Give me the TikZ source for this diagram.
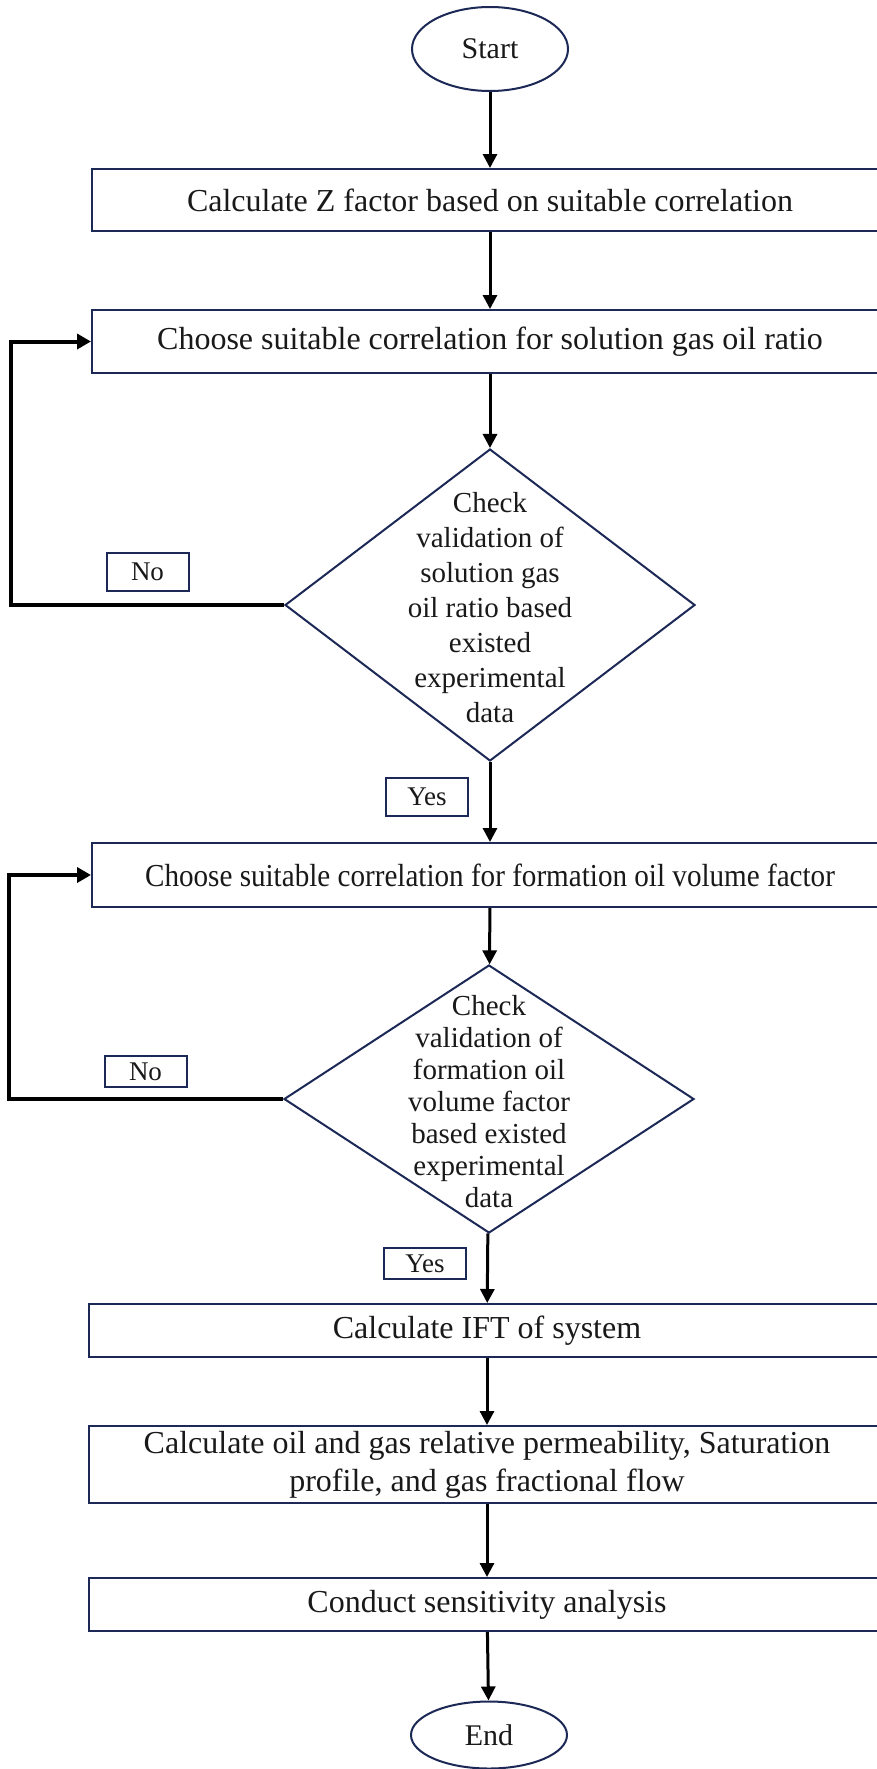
\documentclass[tikz,border=0pt]{standalone}
\usepackage{fontspec}
\setmainfont{Liberation Serif}
\usetikzlibrary{shapes.geometric,arrows.meta}
\definecolor{navy}{RGB}{28,40,86}
\tikzset{
    procbox/.style={draw=navy, line width=2pt, rectangle, minimum width=796pt, inner sep=0pt, align=center, text=black!90, font=\fontsize{32}{38}\selectfont},
    termbox/.style={draw=navy, line width=2pt, ellipse, minimum width=156pt, inner sep=0pt, text=black!90, font=\fontsize{30}{36}\selectfont},
    decbox/.style={draw=navy, line width=2pt, diamond, minimum width=410pt, inner sep=0pt},
    dectext/.style={align=center, inner sep=0pt, text=black!90},
    tagbox/.style={draw=navy, line width=2pt, rectangle, minimum width=82pt, inner sep=0pt, text=black!90, font=\fontsize{27}{32}\selectfont},
    flowarrow/.style={line width=3pt, -{Triangle[length=14pt,width=14pt]}},
    backarrow/.style={line width=4pt, -{Triangle[length=14pt,width=15pt]}}
}
\begin{document}
\begin{tikzpicture}[x=1pt,y=-1pt]
    \useasboundingbox (0,0) rectangle (877,1769);
    \fill[white] (0,0) rectangle (877,1769);
    \clip (0,0) rectangle (877,1769);

    \node[termbox, minimum height=84pt] (start) at (490,49) {Start};
    \node[procbox, minimum height=62pt] (zfac) at (490,200) {Calculate Z factor based on suitable correlation};
    \node[procbox, minimum height=63pt] (gor) at (490,341.5) {Choose suitable correlation for solution gas oil ratio};

    \node[decbox, minimum height=312pt] (chk1) at (490,605) {};
    \node[dectext, font=\fontsize{29}{35}\selectfont] (chk1txt) at (490,607.5)
        {Check\\validation of\\solution gas\\oil ratio based\\existed\\experimental\\data};
    \node[tagbox, minimum height=38pt] (no1) at (147.5,572) {No};
    \node[tagbox, minimum height=38pt] (yes1) at (427,797) {Yes};

    \node[procbox, minimum height=64pt] (fvf) at (490,875)
        {\scalebox{0.91}[1]{Choose suitable correlation for formation oil volume factor}};

    \node[decbox, minimum height=268pt] (chk2) at (489,1099) {};
    \node[dectext, font=\fontsize{29}{32}\selectfont] (chk2txt) at (489,1102)
        {Check\\validation of\\formation oil\\volume factor\\based existed\\experimental\\data};
    \node[tagbox, minimum height=31pt] (no2) at (145.5,1071.5) {No};
    \node[tagbox, minimum height=31pt] (yes2) at (425,1263.5) {Yes};

    \node[procbox, minimum height=53pt] (ift) at (487,1330.5) {Calculate IFT of system};
    \node[procbox, minimum height=77pt] (relperm) at (487,1464.5)
        {Calculate oil and gas relative permeability, Saturation\\profile, and gas fractional flow};
    \node[procbox, minimum height=53pt] (sens) at (487,1604.5) {Conduct sensitivity analysis};
    \node[termbox, minimum height=67pt] (stop) at (489,1735) {End};

    % main flow
    \draw[flowarrow] (start) -- (zfac);
    \draw[flowarrow] (zfac) -- (gor);
    \draw[flowarrow] (gor) -- (chk1);
    \draw[flowarrow] (chk1) -- (fvf);
    \draw[flowarrow] (fvf) -- (chk2);
    \draw[flowarrow] (chk2) -- (ift);
    \draw[flowarrow] (ift) -- (relperm);
    \draw[flowarrow] (relperm) -- (sens);
    \draw[flowarrow] (sens) -- (stop);

    % loops back when the check fails
    \coordinate (lane1) at (11,0);
    \coordinate (lane2) at (9,0);
    \draw[backarrow] (chk1.west) -- (chk1.west -| lane1) |- (gor.west);
    \draw[backarrow] (chk2.west) -- (chk2.west -| lane2) |- (fvf.west);

\end{tikzpicture}
\end{document}
